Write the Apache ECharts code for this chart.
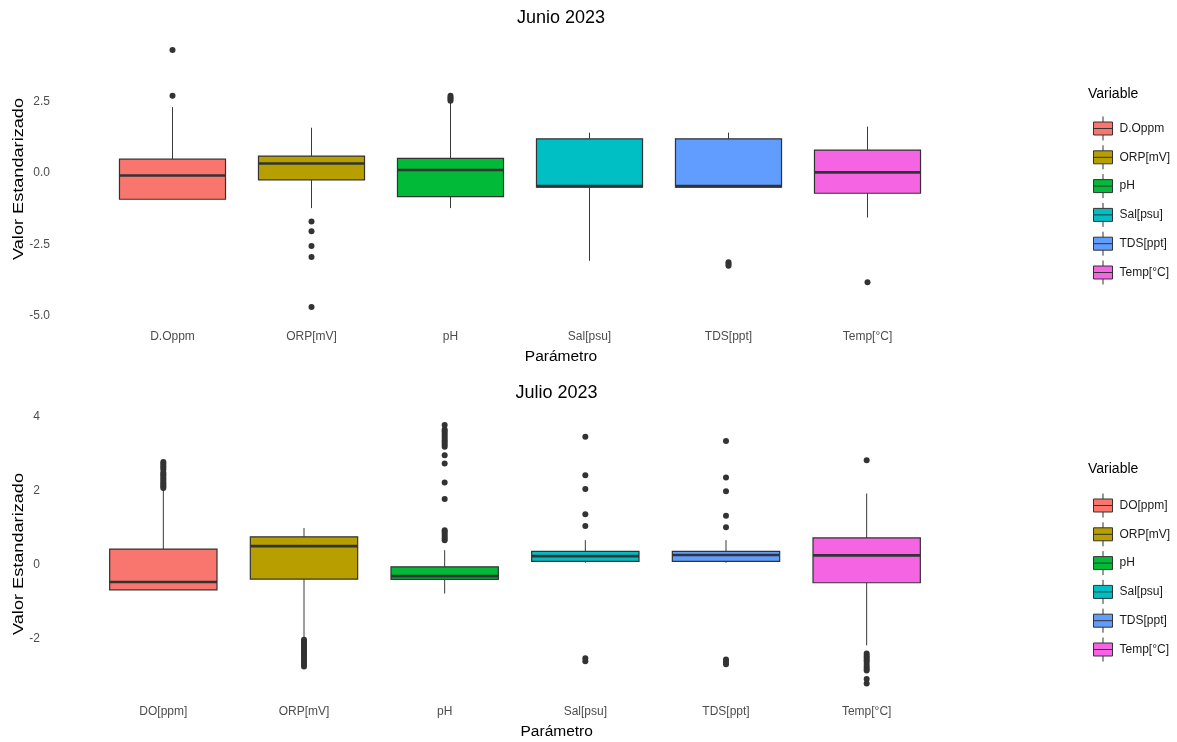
<!DOCTYPE html>
<html><head><meta charset="utf-8">
<script src="https://cdn.jsdelivr.net/npm/echarts@6/dist/echarts.min.js"></script>
<style>html,body{margin:0;padding:0;background:#fff}#c{width:1177px;height:742px}</style>
</head><body><div id="c"></div>
<script>
// ---------- data ----------
const categoriesJun = ['D.Oppm', 'ORP[mV]', 'pH', 'Sal[psu]', 'TDS[ppt]', 'Temp[°C]'];
const categoriesJul = ['DO[ppm]', 'ORP[mV]', 'pH', 'Sal[psu]', 'TDS[ppt]', 'Temp[°C]'];
const colors = ['#F8766D', '#B79F00', '#00BA38', '#00BFC4', '#619CFF', '#F564E3'];

// [min (lower whisker), Q1, median, Q3, max (upper whisker)]
const boxJun = [
  [-0.92, -0.92, -0.09, 0.48, 2.30],
  [-1.23, -0.24, 0.33, 0.59, 1.58],
  [-1.23, -0.83, 0.10, 0.51, 2.45],
  [-3.07, -0.50, -0.46, 1.19, 1.41],
  [-0.50, -0.50, -0.46, 1.19, 1.41],
  [-1.56, -0.71, 0.02, 0.80, 1.62]
];
const outliersJun = [
  [4.30, 2.70],
  [-1.70, -2.04, -2.55, -2.94, -4.69],
  [2.52, 2.58, 2.64, 2.70],
  [],
  [-3.12, -3.18, -3.24],
  [-3.82]
];

const boxJul = [
  [-0.67, -0.67, -0.46, 0.43, 2.05],
  [-1.99, -0.38, 0.51, 0.76, 1.00],
  [-0.77, -0.39, -0.30, -0.05, 0.40],
  [0.06, 0.10, 0.24, 0.37, 0.67],
  [0.06, 0.10, 0.27, 0.37, 0.67],
  [-2.17, -0.48, 0.26, 0.73, 1.93]
];
const outliersJul = [
  [2.08, 2.12, 2.16, 2.20, 2.25, 2.30, 2.35, 2.40, 2.45, 2.50, 2.58, 2.63, 2.68, 2.73, 2.78],
  [-2.02, -2.07, -2.12, -2.17, -2.22, -2.27, -2.32, -2.37, -2.42, -2.48, -2.53, -2.58, -2.63, -2.68, -2.74],
  [0.67, 0.72, 0.78, 0.84, 0.90, 0.94, 1.78, 2.23, 2.74, 2.96, 3.19, 3.25, 3.31, 3.37, 3.43, 3.49, 3.55, 3.61, 3.66, 3.78],
  [1.05, 1.37, 2.05, 2.42, 3.46, -2.52, -2.60],
  [1.02, 1.33, 1.99, 2.36, 3.35, -2.55, -2.62, -2.68],
  [2.83, -2.39, -2.45, -2.50, -2.55, -2.60, -2.67, -2.74, -2.80, -2.85, -3.08, -3.20]
];

const yTicksJun = [-5, -2.5, 0, 2.5];
const yTicksJul = [-2, 0, 2, 4];
const yRangeJun = [-5.14, 4.75];
const yRangeJul = [-3.51, 4.13];

// ---------- chart ----------
const FONT = '"Liberation Sans", Arial, sans-serif';
const iconPath = 'path://M9.5,0V5.5M0,5.5H19V18.5H0ZM0,12H19M9.5,18.5V24';

function renderBox(params, api) {
  const x = api.value(0);
  const pMin = api.coord([x, api.value(1)]);
  const pQ1 = api.coord([x, api.value(2)]);
  const pMed = api.coord([x, api.value(3)]);
  const pQ3 = api.coord([x, api.value(4)]);
  const pMax = api.coord([x, api.value(5)]);
  const w = api.size([1, 0])[0] * 0.763;
  const cx = pMed[0];
  const color = api.visual('color');
  return {
    type: 'group',
    children: [
      { type: 'line', shape: { x1: cx, y1: pMax[1], x2: cx, y2: pQ3[1] }, style: { stroke: '#3a3a3a', lineWidth: 1 } },
      { type: 'line', shape: { x1: cx, y1: pQ1[1], x2: cx, y2: pMin[1] }, style: { stroke: '#3a3a3a', lineWidth: 1 } },
      { type: 'rect', shape: { x: cx - w / 2, y: pQ3[1], width: w, height: pQ1[1] - pQ3[1] }, style: { fill: color, stroke: '#333', lineWidth: 1.2 } },
      { type: 'line', shape: { x1: cx - w / 2, y1: pMed[1], x2: cx + w / 2, y2: pMed[1] }, style: { stroke: '#333', lineWidth: 2.6 } }
    ]
  };
}

function buildSeries(cats, boxes, outs, axisIdx) {
  const s = cats.map((name, i) => ({
    type: 'custom',
    name: name,
    xAxisIndex: axisIdx,
    yAxisIndex: axisIdx,
    itemStyle: { color: colors[i], borderColor: '#333', borderWidth: 1 },
    encode: { x: 0, y: [1, 2, 3, 4, 5] },
    renderItem: renderBox,
    data: [[i].concat(boxes[i])],
    z: 2
  }));
  const pts = [];
  outs.forEach((arr, i) => arr.forEach(v => pts.push([i, v])));
  s.push({
    type: 'scatter',
    name: 'outliers' + axisIdx,
    xAxisIndex: axisIdx,
    yAxisIndex: axisIdx,
    symbolSize: 6,
    itemStyle: { color: '#333', opacity: 1 },
    data: pts,
    z: 3,
    silent: true
  });
  return s;
}

function xAx(cats, idx) {
  return {
    type: 'category', gridIndex: idx, data: cats,
    axisLine: { show: false }, axisTick: { show: false }, splitLine: { show: false },
    axisLabel: { color: '#4d4d4d', fontSize: 12, fontFamily: FONT, margin: 11, interval: 0 }
  };
}
function yAx(range, ticks, idx, digits) {
  return {
    type: 'value', gridIndex: idx, min: range[0], max: range[1],
    axisLine: { show: false }, axisTick: { show: false }, splitLine: { show: false },
    axisLabel: {
      color: '#4d4d4d', fontSize: 12, fontFamily: FONT, margin: 53,
      customValues: ticks,
      formatter: v => Number(v).toFixed(digits)
    }
  };
}

function legendFor(cats, top) {
  return {
    orient: 'vertical', left: 1088, top: top,
    itemWidth: 23, itemHeight: 24, itemGap: 3.8,
    icon: iconPath,
    selectedMode: false,
    itemStyle: { borderColor: '#333', borderWidth: 1 },
    textStyle: { color: '#1a1a1a', fontSize: 12, fontFamily: FONT, padding: [0, 0, 0, 0] },
    data: cats.map(n => ({ name: n, icon: iconPath }))
  };
}

function txt(text, x, y, size, extra) {
  return Object.assign({
    type: 'text', x: x, y: y, silent: true,
    style: { text: text, fill: '#000', font: size + 'px ' + FONT, align: 'center', verticalAlign: 'middle' }
  }, extra || {});
}

const chart = echarts.init(document.getElementById('c'), null, { renderer: 'canvas' });
chart.setOption({
  backgroundColor: '#fff',
  animation: false,
  grid: [
    { left: 103, width: 834, top: 37, height: 283 },
    { left: 93, width: 844, top: 412, height: 283 }
  ],
  xAxis: [xAx(categoriesJun, 0), xAx(categoriesJul, 1)],
  yAxis: [yAx(yRangeJun, yTicksJun, 0, 1), yAx(yRangeJul, yTicksJul, 1, 0)],
  legend: [legendFor(categoriesJun, 111), legendFor(categoriesJul, 488)],
  graphic: [
    txt('Junio 2023', 561, 18, 18),
    txt('Julio 2023', 556.5, 393, 18),
    txt('Parámetro', 561, 356.5, 15.5),
    txt('Parámetro', 556.7, 731.5, 15.5),
    txt('Valor Estandarizado', 19, 179, 15.5, { rotation: Math.PI / 2, scaleX: 1.17 }),
    txt('Valor Estandarizado', 19, 554, 15.5, { rotation: Math.PI / 2, scaleX: 1.17 }),
    txt('Variable', 1088, 94, 14, { style: { text: 'Variable', fill: '#000', font: '14px ' + FONT, align: 'left', verticalAlign: 'middle' } }),
    txt('Variable', 1088, 469, 14, { style: { text: 'Variable', fill: '#000', font: '14px ' + FONT, align: 'left', verticalAlign: 'middle' } })
  ],
  series: buildSeries(categoriesJun, boxJun, outliersJun, 0).concat(buildSeries(categoriesJul, boxJul, outliersJul, 1))
});
</script>
</body></html>
